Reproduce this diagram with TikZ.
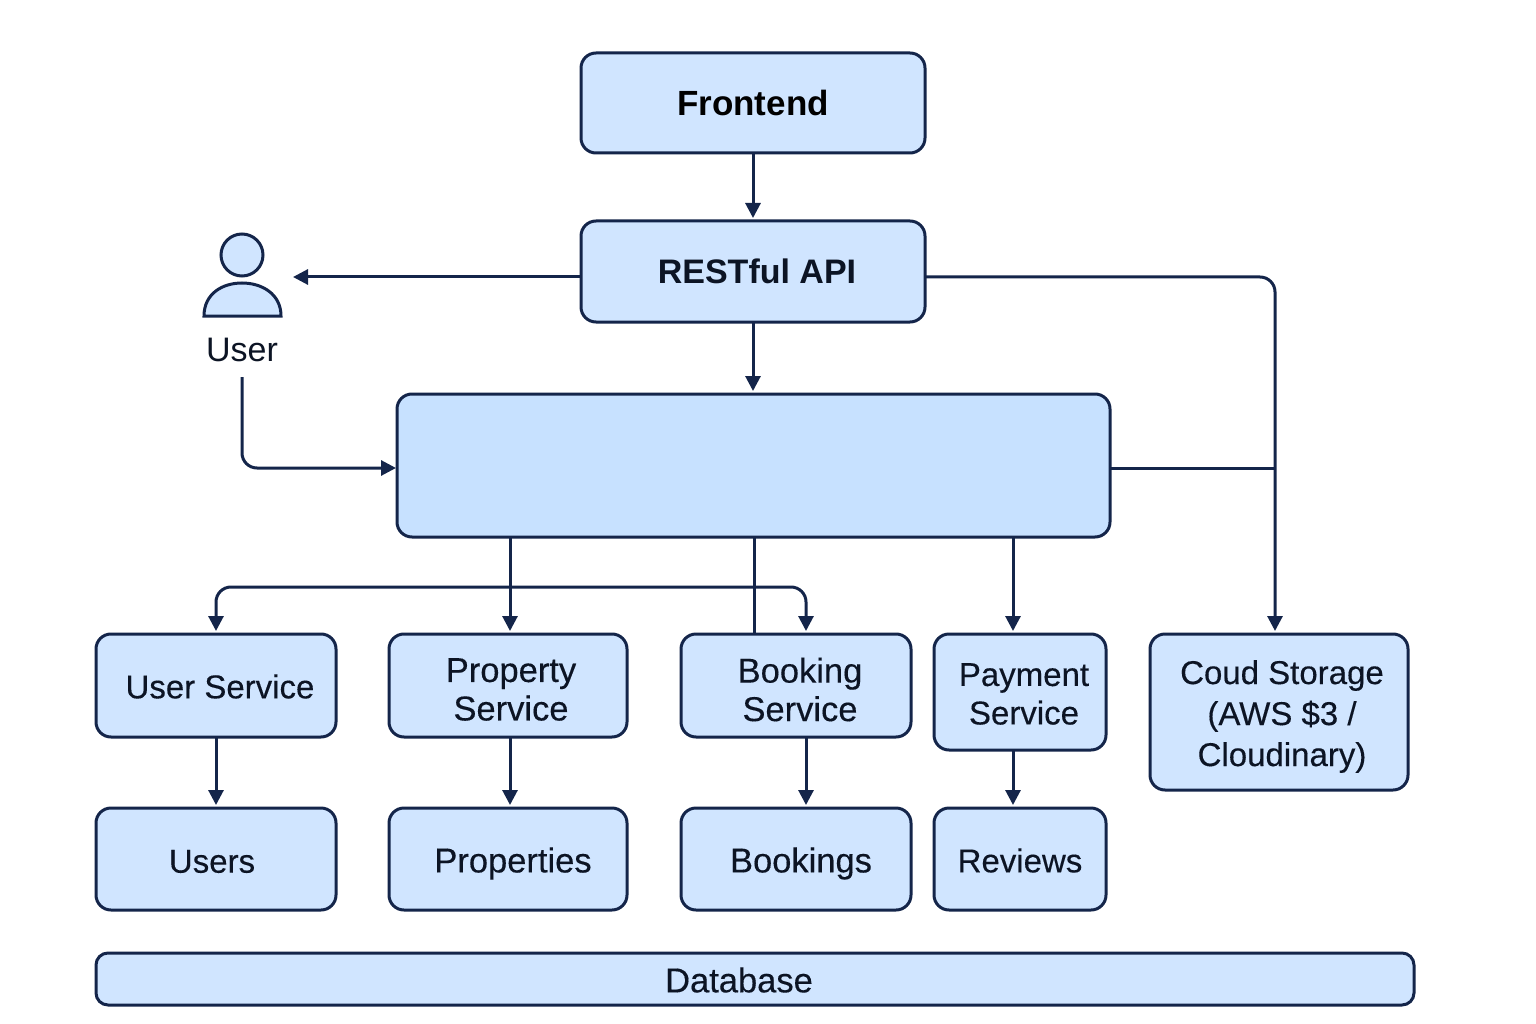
\documentclass[tikz,border=0pt]{standalone}
\usepackage{fontspec}
\setmainfont{Liberation Sans}
\newfontfamily\mediumfont{Liberation Sans}[FakeBold=0.3]
\usetikzlibrary{arrows.meta}
\definecolor{navy}{HTML}{14254A}
\definecolor{boxblue}{HTML}{D0E5FF}
\definecolor{mainblue}{HTML}{C7E1FF}
\definecolor{inkblack}{HTML}{0C1424}

\tikzset{
    block/.style={draw=navy, fill=boxblue, line width=3pt, rounded corners=15pt, outer sep=0pt, inner sep=0pt},
    blocktext/.style={align=center, text=inkblack, font=\mediumfont\fontsize{33}{38.5}\selectfont, inner sep=0pt},
    bigtext/.style={blocktext, font=\mediumfont\fontsize{34.5}{38.5}\selectfont},
    wire/.style={draw=navy, line width=3pt, rounded corners=15pt},
    arrow/.style={wire, -{Triangle[length=15pt, width=15pt]}, shorten >=3pt},
}

\begin{document}
\begin{tikzpicture}[x=1pt, y=-1pt]
    \useasboundingbox (0,0) rectangle (1536,1024);

    % Top of the stack
    \node[block, minimum width=344, minimum height=100] (Frontend) at (753,103)
        {\fontsize{35}{40}\selectfont\bfseries Frontend};
    \node[block, minimum width=344, minimum height=101,
        label={[blocktext, xshift=4, font=\fontsize{34}{40}\selectfont\bfseries]center:RESTful API}] (RESTful) at (753,271.5) {};
    \node[block, fill=mainblue, minimum width=713, minimum height=143] (MainBox) at (753.5,465.5) {};

    % The person on the left
    \node[block, circle, fill=boxblue, minimum size=42] (UserHead) at (242,255) {};
    \draw[block, rounded corners=0pt, line join=miter] (204,316) .. controls (204,294) and (222,283) .. (242,283)
        .. controls (262,283) and (281,294) .. (281,316) -- cycle;
    \node[blocktext, font=\fontsize{34}{40}\selectfont] (UserLabel) at (242,350) {User};
    \coordinate (UserTail) at (242,377);

    % Services
    \node[block, minimum width=240, minimum height=103,
        label={[blocktext, xshift=4, yshift=-1]center:User Service}] (UserService) at (216,685.5) {};
    \node[block, minimum width=238, minimum height=103,
        label={[bigtext, xshift=3, yshift=-4]center:{Property\\Service}}] (PropertyService) at (508,685.5) {};
    \node[block, minimum width=230, minimum height=103,
        label={[bigtext, xshift=4, yshift=-4]center:{Booking\\Service}}] (BookingService) at (796,685.5) {};
    \node[block, minimum width=172, minimum height=116,
        label={[blocktext, xshift=4, yshift=-2]center:{Payment\\Service}}] (PaymentService) at (1020,692) {};
    \node[block, minimum width=258, minimum height=156,
        label={[blocktext, xshift=3, yshift=-4.5, font=\mediumfont\fontsize{33}{41}\selectfont]center:{Coud Storage\\(AWS \$3 /\\Cloudinary)}}] (CloudStorage) at (1279,712) {};

    % Tables
    \node[block, minimum width=240, minimum height=102,
        label={[blocktext, xshift=-4, yshift=-2.5]center:Users}] (Users) at (216,859) {};
    \node[block, minimum width=238, minimum height=102,
        label={[bigtext, xshift=5, yshift=-4.5]center:Properties}] (Properties) at (508,859) {};
    \node[block, minimum width=230, minimum height=102,
        label={[bigtext, xshift=5, yshift=-4.5]center:Bookings}] (Bookings) at (796,859) {};
    \node[block, minimum width=172, minimum height=102,
        label={[blocktext, yshift=-1.5]center:Reviews}] (Reviews) at (1020,859) {};
    \node[block, minimum width=1318, minimum height=52, rounded corners=12pt,
        label={[bigtext, xshift=-16, yshift=-1]center:Database}] (Database) at (755,979) {};

    % Helper coordinates for the wires
    \coordinate (UserTip) at (293,277);
    \coordinate (StorageDrop) at (1275,277);
    \coordinate (MainMid) at (753.5,468);
    \coordinate (BarTop) at (806,587);

    % Vertical flow
    \draw[arrow] (Frontend) -- (RESTful);
    \draw[arrow] (RESTful) -- (RESTful |- MainBox.north);

    % Wires from the API
    \draw[arrow, shorten >=0pt] (RESTful.west |- UserTip) -- (UserTip);
    \draw[arrow] (RESTful.east |- StorageDrop) -- (StorageDrop) -- (StorageDrop |- CloudStorage.north);
    \draw[wire] (MainBox.east |- MainMid) -- (StorageDrop |- MainMid);
    \draw[arrow, shorten >=1pt] (UserTail) |- (MainBox.west |- MainMid);

    % Wires below the main box
    \draw[arrow] (510,0 |- MainBox.south) -- (510,0 |- PropertyService.north);
    \draw[arrow] (1013,0 |- MainBox.south) -- (1013,0 |- PaymentService.north);
    \draw[wire] (754,0 |- MainBox.south) -- (754,0 |- BookingService.north);
    \draw[arrow, {Triangle[length=15pt, width=15pt]}-{Triangle[length=15pt, width=15pt]}, shorten <=3pt]
        (UserService.north) |- (BarTop) -- (BarTop |- BookingService.north);

    % Each service down to its table
    \foreach \a/\b/\x in {UserService/Users/216, PropertyService/Properties/510, BookingService/Bookings/806, PaymentService/Reviews/1013}
        \draw[arrow] (\x,0 |- \a.south) -- (\x,0 |- \b.north);

\end{tikzpicture}
\end{document}
